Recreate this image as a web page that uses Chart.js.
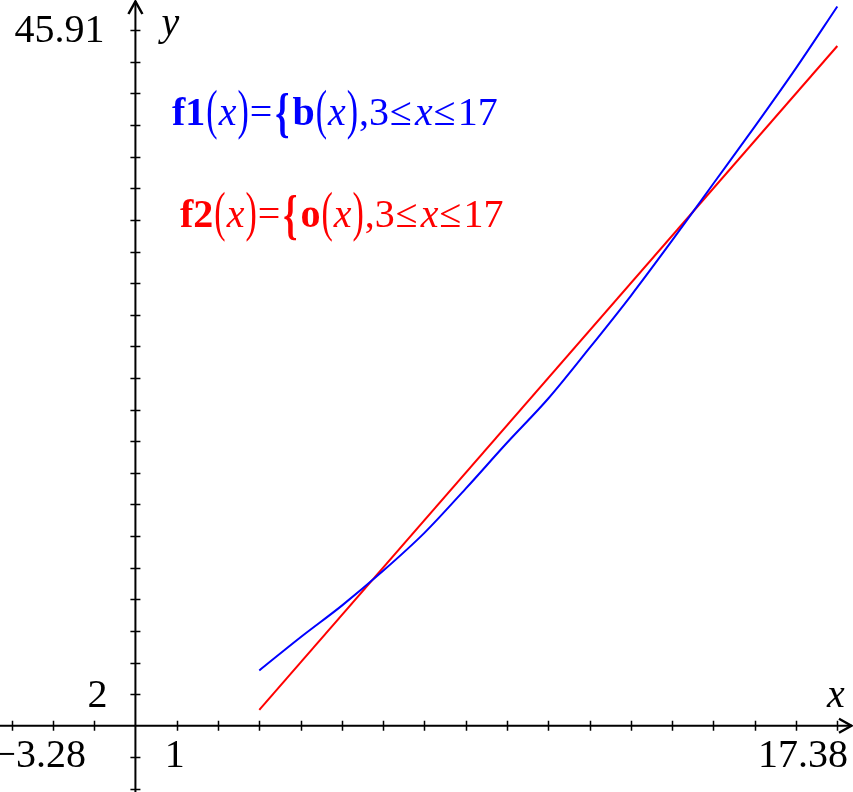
<!DOCTYPE html>
<html>
<head>
<meta charset="utf-8">
<script src="https://cdn.jsdelivr.net/npm/chart.js@4.4.0/dist/chart.umd.min.js"></script>
<style>
  html, body { margin: 0; padding: 0; background: #fff; }
  #chart { display: block; }
</style>
</head>
<body>
<canvas id="chart" width="853" height="792"></canvas>
<script>
// window of the graph
const xMin = -3.28, xMax = 17.38;
const yMin = -4.19, yMax = 45.91;

// f1: b(x)
const bX = [3, 4, 5, 6, 7, 8, 9, 10, 11, 12, 13, 14, 15, 16, 17];
const bY = [3.5, 5.6, 7.6, 9.8, 12.2, 15.0, 17.9, 20.7, 23.9, 27.2, 30.7, 34.3, 37.9, 41.6, 45.5];

// f2: o(x), straight line
const oX = [3, 17];
const oY = [1, 43];

// tick marks on the axes
const xTicks = [-3, -2, -1, 1, 2, 3, 4, 5, 6, 7, 8, 9, 10, 11, 12, 13, 14, 15, 16, 17];
const yTicks = [-4, -2, 2, 4, 6, 8, 10, 12, 14, 16, 18, 20, 22, 24, 26, 28, 30, 32, 34, 36, 38, 40, 42, 44];

// labels printed on the axes
const yTopLabel = '45.91';
const yTickLabel = '2';
const xLeftLabel = '\u22123.28';
const xTickLabel = '1';
const xRightLabel = '17.38';

const serif = "'Liberation Serif', 'Times New Roman', serif";

function toPoints(xs, ys) {
  return xs.map((x, i) => ({ x: x, y: ys[i] }));
}

function drawRich(ctx, parts, x, y, color) {
  ctx.fillStyle = color;
  ctx.textAlign = 'left';
  ctx.textBaseline = 'alphabetic';
  let cx = x;
  parts.forEach(p => {
    ctx.font = p.font;
    const w = ctx.measureText(p.t).width * (p.sx || 1);
    if (p.sy) {
      ctx.save();
      ctx.translate(cx, y + (p.dy || 0));
      ctx.scale(p.sx || 1, p.sy);
      ctx.fillText(p.t, 0, 0);
      ctx.restore();
    } else {
      ctx.fillText(p.t, cx, y);
    }
    cx += w + (p.gap === undefined ? 1 : p.gap);
  });
}

function formula(name, fn) {
  const reg = '40px ' + serif;
  const bold = 'bold 40px ' + serif;
  const ital = 'italic 40px ' + serif;
  return [
    { t: name, font: bold },
    { t: '(', font: reg, sx: 0.85, sy: 1.35, dy: 3 },
    { t: 'x', font: ital },
    { t: ')', font: reg, sx: 0.85, sy: 1.35, dy: 3 },
    { t: '=', font: reg, gap: 3 },
    { t: '{', font: bold, sx: 0.9, sy: 1.35, dy: 6, gap: 3 },
    { t: fn, font: bold },
    { t: '(', font: reg, sx: 0.85, sy: 1.35, dy: 3 },
    { t: 'x', font: ital },
    { t: ')', font: reg, sx: 0.85, sy: 1.35, dy: 3 },
    { t: ',3', font: reg },
    { t: '\u2264', font: reg, gap: 3 },
    { t: 'x', font: ital },
    { t: '\u2264', font: reg, gap: 2 },
    { t: '17', font: reg }
  ];
}

const axesPlugin = {
  id: 'axesPlugin',
  beforeDatasetsDraw(chart) {
    const ctx = chart.ctx;
    const xs = chart.scales.x, ys = chart.scales.y;
    const x0 = xs.getPixelForValue(0), y0 = ys.getPixelForValue(0);
    ctx.save();
    ctx.strokeStyle = '#000';
    ctx.lineWidth = 2;
    ctx.beginPath();
    ctx.moveTo(0, y0); ctx.lineTo(chart.width - 1, y0);
    ctx.moveTo(x0, chart.height); ctx.lineTo(x0, 1);
    ctx.stroke();

    ctx.lineWidth = 1.5;
    ctx.beginPath();
    xTicks.forEach(v => {
      const px = Math.round(xs.getPixelForValue(v)) + 0.5;
      ctx.moveTo(px, y0 - 5); ctx.lineTo(px, y0 + 5);
    });
    yTicks.forEach(v => {
      const py = Math.round(ys.getPixelForValue(v)) + 0.5;
      ctx.moveTo(x0 - 5, py); ctx.lineTo(x0 + 5, py);
    });
    ctx.stroke();

    // arrow heads
    ctx.lineWidth = 2.5;
    ctx.beginPath();
    ctx.moveTo(chart.width - 14, y0 - 7); ctx.lineTo(chart.width - 1.5, y0); ctx.lineTo(chart.width - 14, y0 + 7);
    ctx.moveTo(x0 - 7, 14); ctx.lineTo(x0, 1.5); ctx.lineTo(x0 + 7, 14);
    ctx.stroke();
    ctx.restore();
  },
  afterDraw(chart) {
    const ctx = chart.ctx;
    const xs = chart.scales.x, ys = chart.scales.y;
    const x0 = xs.getPixelForValue(0), y0 = ys.getPixelForValue(0);
    ctx.save();
    ctx.fillStyle = '#000';
    ctx.font = '40px ' + serif;
    ctx.textBaseline = 'alphabetic';

    ctx.textAlign = 'right';
    ctx.fillText(yTopLabel, x0 - 31, 42);
    ctx.fillText(yTickLabel, x0 - 28, ys.getPixelForValue(2) + 13);
    ctx.fillText(xLeftLabel, 86, y0 + 41);
    ctx.fillText(xRightLabel, chart.width - 5, y0 + 41);
    ctx.textAlign = 'center';
    ctx.fillText(xTickLabel, xs.getPixelForValue(1) - 2, y0 + 41);

    ctx.font = 'italic 40px ' + serif;
    ctx.textAlign = 'left';
    ctx.fillText('x', chart.width - 26, y0 - 19);
    ctx.fillText('y', x0 + 26, 35);

    drawRich(ctx, formula('f1', 'b'), 172, 125, '#0000ff');
    drawRich(ctx, formula('f2', 'o'), 180, 227, '#ff0000');
    ctx.restore();
  }
};

new Chart(document.getElementById('chart'), {
  type: 'scatter',
  data: {
    datasets: [
      {
        label: 'f1',
        data: toPoints(bX, bY),
        showLine: true,
        borderColor: '#0000ff',
        borderWidth: 2,
        pointRadius: 0,
        cubicInterpolationMode: 'monotone'
      },
      {
        label: 'f2',
        data: toPoints(oX, oY),
        showLine: true,
        borderColor: '#ff0000',
        borderWidth: 2,
        pointRadius: 0,
        tension: 0
      }
    ]
  },
  options: {
    responsive: false,
    animation: false,
    layout: { padding: 0 },
    plugins: { legend: { display: false }, tooltip: { enabled: false } },
    scales: {
      x: { type: 'linear', min: xMin, max: xMax, display: false },
      y: { type: 'linear', min: yMin, max: yMax, display: false }
    }
  },
  plugins: [axesPlugin]
});
</script>
</body>
</html>
